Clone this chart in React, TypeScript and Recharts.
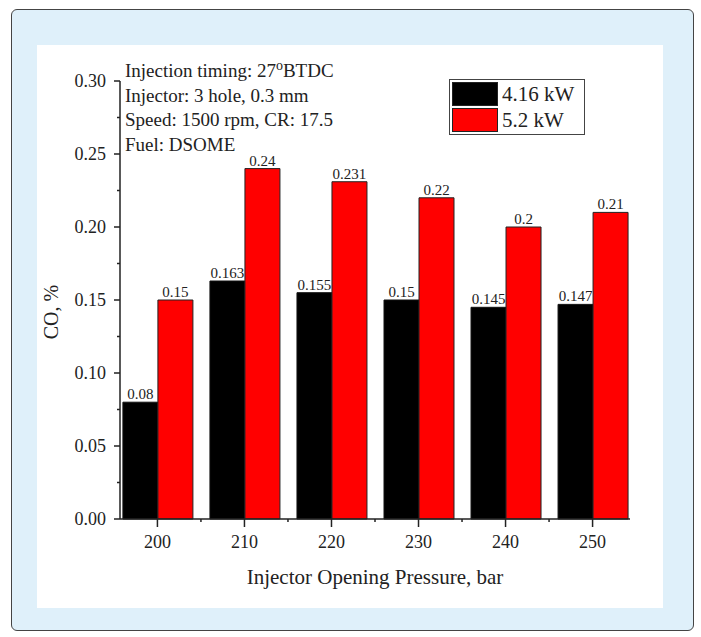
import { BarChart, Bar, XAxis, YAxis, Legend, LabelList } from 'recharts';

const pressures = [200, 210, 220, 230, 240, 250];
const load416 = [0.08, 0.163, 0.155, 0.15, 0.145, 0.147];
const load52 = [0.15, 0.24, 0.231, 0.22, 0.2, 0.21];

const xTicks = [200, 205, 210, 215, 220, 225, 230, 235, 240, 245, 250];
const yTicks = [0, 0.025, 0.05, 0.075, 0.1, 0.125, 0.15, 0.175, 0.2, 0.225, 0.25, 0.275, 0.3];
const yMajor = [0, 0.05, 0.1, 0.15, 0.2, 0.25, 0.3];

const notes = ['Injector: 3 hole, 0.3 mm', 'Speed: 1500 rpm, CR: 17.5', 'Fuel: DSOME'];

const data = pressures.map((p, i) => ({ pressure: p, low: load416[i], high: load52[i] }));

const serif = '"Liberation Serif", "DejaVu Serif", serif';
const ink = '#222';

function XTick({ x, y, payload }: any) {
  const major = payload.value % 10 === 0;
  return (
    <g>
      <line x1={x} x2={x} y1={y} y2={y + (major ? 8 : 3)} stroke={ink} strokeWidth={1.5} />
      {major && (
        <text x={x} y={y + 29} textAnchor="middle" fontSize={18} fontFamily={serif} fill={ink}>
          {payload.value}
        </text>
      )}
    </g>
  );
}

function YTick({ x, y, payload }: any) {
  const major = yMajor.some((m) => Math.abs(m - payload.value) < 1e-6);
  return (
    <g>
      <line x1={x - (major ? 6 : 3)} x2={x} y1={y} y2={y} stroke={ink} strokeWidth={1.5} />
      {major && (
        <text x={x - 14} y={y} dy="0.35em" textAnchor="end" fontSize={18} fontFamily={serif} fill={ink}>
          {payload.value.toFixed(2)}
        </text>
      )}
    </g>
  );
}

function LegendBox({ payload }: any) {
  return (
    <div style={{ border: '1.5px solid #444', background: '#fff', padding: '1px 2px', width: 130 }}>
      {payload.map((p: any) => (
        <div key={p.value} style={{ display: 'flex', alignItems: 'center', height: 26 }}>
          <span style={{ display: 'inline-block', width: 46, height: 24, background: p.color, border: '1px solid #222', boxSizing: 'border-box' }} />
          <span style={{ marginLeft: 4, fontSize: 21, fontFamily: serif, color: ink }}>{p.value}</span>
        </div>
      ))}
    </div>
  );
}

export default function App() {
  return (
    <div style={{ position: 'absolute', left: 0, top: 0, width: 701, height: 637, background: '#fff' }}>
      <div
        style={{
          position: 'absolute', left: 11, top: 9, width: 681, height: 620,
          background: '#dff0fa', border: '1.5px solid #444', borderRadius: 6,
        }}
      />
      <div style={{ position: 'absolute', left: 37, top: 45, width: 626, height: 563, background: '#fff' }} />
      <div style={{ position: 'absolute', left: 0, top: 0 }}>
        <BarChart
          width={701}
          height={637}
          data={data}
          barGap={0}
          barSize={35}
          margin={{ left: 40, right: 71, top: 81, bottom: 58 }}
        >
          <XAxis
            dataKey="pressure"
            type="number"
            domain={[195.7, 254.3]}
            ticks={xTicks}
            interval={0}
            height={60}
            tickLine={false}
            tickSize={0}
            tickMargin={0}
            axisLine={{ stroke: ink, strokeWidth: 1.5 }}
            tick={<XTick />}
            label={{
              content: ({ viewBox }: any) => (
                <text x={viewBox.x + viewBox.width / 2} y={viewBox.y + 65} textAnchor="middle" fontSize={21} fontFamily={serif} fill={ink}>
                  Injector Opening Pressure, bar
                </text>
              ),
            }}
          />
          <YAxis
            type="number"
            domain={[0, 0.3]}
            ticks={yTicks}
            interval={0}
            width={80}
            tickLine={false}
            tickSize={0}
            tickMargin={0}
            axisLine={{ stroke: ink, strokeWidth: 1.5 }}
            tick={<YTick />}
            label={{
              content: ({ viewBox }: any) => {
                const cx = viewBox.x + 11;
                const cy = viewBox.y + viewBox.height / 2 + 12;
                return (
                  <text x={cx} y={cy} dy="0.35em" textAnchor="middle" fontSize={20} fontFamily={serif} fill={ink} transform={`rotate(-90 ${cx} ${cy})`}>
                    CO, %
                  </text>
                );
              },
            }}
          />
          <Legend
            layout="horizontal"
            verticalAlign="middle"
            align="center"
            content={<LegendBox />}
            wrapperStyle={{ position: 'absolute', left: 449, top: 79, width: 'auto' }}
          />
          <Bar dataKey="low" name="4.16 kW" fill="#000000" stroke="#111" strokeWidth={1} isAnimationActive={false}>
            <LabelList dataKey="low" position="top" offset={3} fontSize={15} fontFamily={serif} fill={ink} />
          </Bar>
          <Bar dataKey="high" name="5.2 kW" fill="#ff0000" stroke="#222" strokeWidth={1} isAnimationActive={false}>
            <LabelList dataKey="high" position="top" offset={3} fontSize={15} fontFamily={serif} fill={ink} />
          </Bar>
        </BarChart>
      </div>
      <div style={{ position: 'absolute', left: 125, top: 59, fontFamily: serif, fontSize: 19, lineHeight: '24.5px', color: ink }}>
        <div>
          Injection timing: 27<sup style={{ fontSize: 14, lineHeight: 0, verticalAlign: '0.5em' }}>o</sup>BTDC
        </div>
        {notes.map((n) => (
          <div key={n}>{n}</div>
        ))}
      </div>
    </div>
  );
}
